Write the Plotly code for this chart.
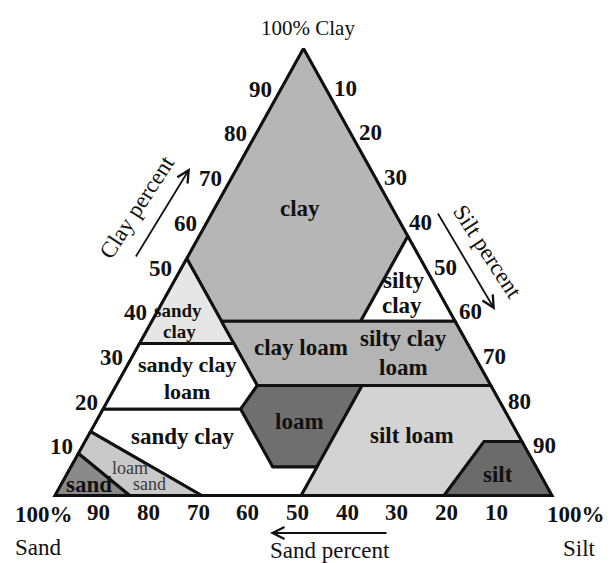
import plotly.graph_objects as go

W, H = 614, 563
FONT = "Liberation Serif, 'Times New Roman', serif"

# Texture class polygons, each vertex given as (clay %, sand %); silt is the remainder.
CLAY = [(100, 0), (53, 47), (39, 47), (39, 19), (58, 0)]
SILTY_CLAY = [(58, 0), (39, 19), (39, 0)]
SANDY_CLAY = [(53, 47), (34, 66), (34, 47)]
CLAY_LOAM_BAND = [(39, 47), (24.6, 47), (24.6, 0), (39, 0)]   # clay loam + silty clay loam
SANDY_CLAY_LOAM = [(34, 66), (34, 47), (24.6, 47), (19.3, 53), (19.3, 80.7)]
LOAM = [(24.6, 47), (24.6, 25.9), (6.4, 44.1), (6.4, 53), (19.3, 53)]
SILT_LOAM = [(24.6, 25.9), (24.6, 0), (12.1, 0), (12.1, 7.6), (0, 21.7), (0, 50.5)]
SILT = [(12.1, 0), (12.1, 7.6), (0, 21.7), (0, 0)]
SANDY_LOAM = [(19.3, 80.7), (19.3, 53), (6.4, 53), (6.4, 44.1), (0, 50.5), (0, 70.5), (14.3, 85.7)]
LOAMY_SAND = [(14.3, 85.7), (0, 70.5), (0, 85), (9.4, 90.6)]
SAND = [(9.4, 90.6), (0, 85), (0, 100)]

REGIONS = [CLAY, SILTY_CLAY, SANDY_CLAY, CLAY_LOAM_BAND, SANDY_CLAY_LOAM, LOAM,
           SILT_LOAM, SILT, SANDY_LOAM, LOAMY_SAND, SAND]
REGION_FILLS = ["#b6b6b6", "#ffffff", "#e6e6e6", "#b4b4b4", "#ffffff", "#6f6f6f",
                "#d3d3d3", "#6b6b6b", "#ffffff", "#c9c9c9", "#8a8a8a"]

# Class names written inside the triangle, one entry per text line
LABELS = ["clay", "silty", "clay", "sandy", "clay", "clay loam", "silty clay", "loam",
          "sandy clay", "loam", "loam", "sandy clay", "silt loam", "silt", "loam", "sand", "sand"]
LABEL_CLAY = [64.3, 48.2, 42.4, 41.5, 36.6, 33.0, 35.2, 28.7,
              29.2, 23.3, 16.5, 13.1, 13.5, 4.6, 6.2, 2.6, 2.4]
LABEL_SAND = [18.6, 5.7, 8.9, 54.5, 56.6, 34.1, 12.3, 15.6,
              58.8, 61.8, 42.5, 67.7, 21.5, 8.6, 81.8, 79.6, 92.0]
LABEL_SIZE = [23, 23, 23, 19, 19, 23, 23, 23, 22, 22, 23, 23, 23, 23, 18, 18, 23]
LABEL_BOLD = [True] * 14 + [False, False, True]
LABEL_COLOR = ["#111"] * 14 + ["#3a3a3a", "#3a3a3a", "#111"]

CLAY_TICKS = [10, 20, 30, 40, 50, 60, 70, 80, 90]
SILT_TICKS = [10, 20, 30, 40, 50, 60, 70, 80, 90]
SAND_TICKS = [90, 80, 70, 60, 50, 40, 30, 20, 10]


def xy(clay, sand):
    """Ternary (clay, sand) -> planar position: x = silt + clay/2, y = clay."""
    silt = 100 - clay - sand
    return silt + clay / 2, clay


def pp(px, py):
    """Pixel position -> paper fraction."""
    return px / W, 1 - py / H


fig = go.Figure()

for poly, fill in zip(REGIONS, REGION_FILLS):
    pts = [xy(c, s) for c, s in poly] + [xy(*poly[0])]
    fig.add_trace(go.Scatter(
        x=[p[0] for p in pts], y=[p[1] for p in pts], mode="lines",
        fill="toself", fillcolor=fill, line=dict(color="#111", width=3),
        hoverinfo="skip", showlegend=False))

# outer triangle
tri = [xy(100, 0), xy(0, 100), xy(0, 0), xy(100, 0)]
fig.add_trace(go.Scatter(x=[p[0] for p in tri], y=[p[1] for p in tri], mode="lines",
                         line=dict(color="#111", width=2.4), hoverinfo="skip",
                         showlegend=False))

ann = []
for txt, c, s, size, bold, col in zip(LABELS, LABEL_CLAY, LABEL_SAND, LABEL_SIZE,
                                      LABEL_BOLD, LABEL_COLOR):
    x, y = xy(c, s)
    ann.append(dict(x=x, y=y, xref="x", yref="y", showarrow=False,
                    text=f"<b>{txt}</b>" if bold else txt,
                    font=dict(family=FONT, size=size, color=col)))

tick_font = dict(family=FONT, size=23, color="#111")
for t in CLAY_TICKS:
    x, y = xy(t, 100 - t)
    ann.append(dict(x=x, y=y, xref="x", yref="y", showarrow=False, text=f"<b>{t}</b>",
                    xanchor="right", yanchor="middle", xshift=-5, yshift=4, font=tick_font))
for t in SILT_TICKS:
    x, y = xy(100 - t, 0)
    ann.append(dict(x=x, y=y, xref="x", yref="y", showarrow=False, text=f"<b>{t}</b>",
                    xanchor="left", yanchor="middle", xshift=4, yshift=5, font=tick_font))
for t in SAND_TICKS:
    x, y = xy(0, t)
    ann.append(dict(x=x, y=y, xref="x", yref="y", showarrow=False, text=f"<b>{t}</b>",
                    xanchor="center", yanchor="top", xshift=-6, yshift=-2, font=tick_font))

plain = dict(family=FONT, size=23, color="#111")


def note(px, py, text, font, angle=0):
    x, y = pp(px, py)
    ann.append(dict(x=x, y=y, xref="paper", yref="paper", showarrow=False, text=text,
                    textangle=angle, font=font, xanchor="center", yanchor="middle"))


note(308, 28, "100% Clay", dict(family=FONT, size=21, color="#111"))
note(44, 514, "<b>100%</b>", tick_font)
note(38, 547, "Sand", plain)
note(576, 514, "<b>100%</b>", tick_font)
note(579, 548, "Silt", plain)
note(330, 550, "Sand percent", plain)
note(137, 208, "Clay percent", plain, angle=-57)
note(487, 252, "Silt percent", plain, angle=57)


def arrow(head, tail):
    x, y = pp(*head)
    ann.append(dict(x=x, y=y, xref="paper", yref="paper", text="", showarrow=True,
                    ax=tail[0] - head[0], ay=tail[1] - head[1], axref="pixel", ayref="pixel",
                    arrowhead=5, arrowsize=1.3, arrowwidth=1.8, arrowcolor="#111"))


arrow((190, 168), (135, 258))
arrow((495, 310), (437, 212))
arrow((270, 533), (388, 533))

fig.update_layout(
    width=W, height=H, margin=dict(l=0, r=0, t=0, b=0),
    paper_bgcolor="white", plot_bgcolor="white",
    xaxis=dict(range=[-55 / 4.97, (W - 55) / 4.97], visible=False, domain=[0, 1]),
    yaxis=dict(range=[-(H - 495.5) / 4.47, 495.5 / 4.47], visible=False, domain=[0, 1]),
    annotations=ann, showlegend=False)

fig.write_html("out.html")
